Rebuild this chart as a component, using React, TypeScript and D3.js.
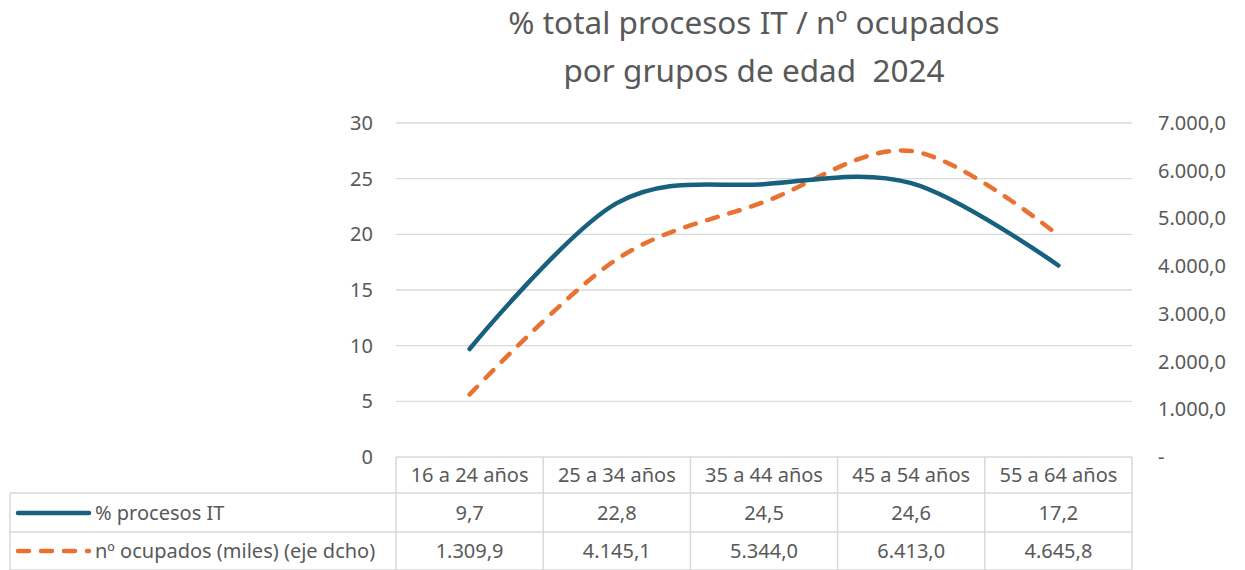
import React from "react";
import * as d3 from "d3";

const categories = ["16 a 24 años", "25 a 34 años", "35 a 44 años", "45 a 54 años", "55 a 64 años"];
const pctIT = [9.7, 22.8, 24.5, 24.6, 17.2];
const ocupados = [1309.9, 4145.1, 5344.0, 6413.0, 4645.8];
const leftTicks = [0, 5, 10, 15, 20, 25, 30];
const rightTicks = [0, 1000, 2000, 3000, 4000, 5000, 6000, 7000];
const seriesNames = ["% procesos IT", "nº ocupados (miles) (eje dcho)"];
const titleLines = ["% total procesos IT / nº ocupados", "por grupos de edad  2024"];

const W = 1245, H = 570;
const plotL = 396, plotR = 1132, plotT = 123, plotB = 457;
const blue = "#17607E";
const orange = "#E97132";
const gray = "#595959";
const grid = "#D9D9D9";
const FONT = "'Noto Sans', sans-serif";
const FS = 20;

const fmtES = (v: number) => {
  const s = v.toFixed(1);
  const [i, d] = s.split(".");
  return i.replace(/\B(?=(\d{3})+(?!\d))/g, ".") + "," + d;
};

export default function App() {
  const x = d3.scaleBand<string>().domain(categories).range([plotL, plotR]);
  const yL = d3.scaleLinear().domain([0, 30]).range([plotB, plotT]);
  const yR = d3.scaleLinear().domain([0, 7000]).range([plotB, plotT]);
  const cx = (c: string) => (x(c) as number) + x.bandwidth() / 2;

  const lineL = d3.line<number>().x((_, i) => cx(categories[i])).y((d) => yL(d)).curve(d3.curveCatmullRom.alpha(0));
  const lineR = d3.line<number>().x((_, i) => cx(categories[i])).y((d) => yR(d)).curve(d3.curveCatmullRom.alpha(0));

  const rowTops = [457, 493, 532, 570];
  const tableLeft = 10;

  return (
    <svg width={W} height={H} style={{ position: "absolute", left: 0, top: 0, background: "#fff" }} fontFamily={FONT}>
      {titleLines.map((t, i) => (
        <text key={i} x={754} y={34 + i * 48} textAnchor="middle" fontSize={31.5} fill={gray} style={{ whiteSpace: "pre" }}>{t}</text>
      ))}
      {leftTicks.map((t) => (
        <g key={"l" + t}>
          {t > 0 && <line x1={plotL} x2={plotR} y1={yL(t)} y2={yL(t)} stroke={grid} strokeWidth={1.3} />}
          <text x={373} y={yL(t)} dy="0.35em" textAnchor="end" fontSize={FS} fill={gray}>{t}</text>
        </g>
      ))}
      {rightTicks.map((t) => (
        <text key={"r" + t} x={1158} y={yR(t)} dy="0.35em" textAnchor="start" fontSize={FS} fill={gray}>
          {t === 0 ? "-" : fmtES(t)}
        </text>
      ))}
      {/* data table */}
      <g stroke={grid} strokeWidth={1.5} fill="none">
        <line x1={plotL} x2={plotR} y1={rowTops[0]} y2={rowTops[0]} />
        <line x1={tableLeft} x2={plotR} y1={rowTops[1]} y2={rowTops[1]} />
        <line x1={tableLeft} x2={plotR} y1={rowTops[2]} y2={rowTops[2]} />
        <line x1={tableLeft} x2={plotR} y1={rowTops[3]} y2={rowTops[3]} />
        <line x1={tableLeft} x2={tableLeft} y1={rowTops[1]} y2={rowTops[3]} />
        {categories.map((c) => (
          <line key={c} x1={x(c) as number} x2={x(c) as number} y1={rowTops[0]} y2={rowTops[3]} />
        ))}
        <line x1={plotR} x2={plotR} y1={rowTops[0]} y2={rowTops[3]} />
      </g>
      {categories.map((c, i) => (
        <g key={"t" + c} fontSize={FS} fill={gray} textAnchor="middle">
          <text x={cx(c)} y={(rowTops[0] + rowTops[1]) / 2} dy="0.35em">{c}</text>
          <text x={cx(c)} y={(rowTops[1] + rowTops[2]) / 2} dy="0.35em">{fmtES(pctIT[i])}</text>
          <text x={cx(c)} y={(rowTops[2] + rowTops[3]) / 2} dy="0.35em">{fmtES(ocupados[i])}</text>
        </g>
      ))}
      {/* legend keys */}
      <line x1={18} x2={89} y1={513} y2={513} stroke={blue} strokeWidth={4.5} strokeLinecap="round" />
      <line x1={18} x2={89} y1={551} y2={551} stroke={orange} strokeWidth={4.5} strokeLinecap="round" strokeDasharray="11 12" />
      <text x={95} y={513} dy="0.35em" fontSize={FS} fill={gray}>{seriesNames[0]}</text>
      <text x={95} y={551} dy="0.35em" fontSize={FS} fill={gray}>{seriesNames[1]}</text>
      {/* lines */}
      <path d={lineR(ocupados) as string} fill="none" stroke={orange} strokeWidth={4.5} strokeLinecap="round" strokeDasharray="11 12" />
      <path d={lineL(pctIT) as string} fill="none" stroke={blue} strokeWidth={4.5} strokeLinecap="round" />
    </svg>
  );
}
